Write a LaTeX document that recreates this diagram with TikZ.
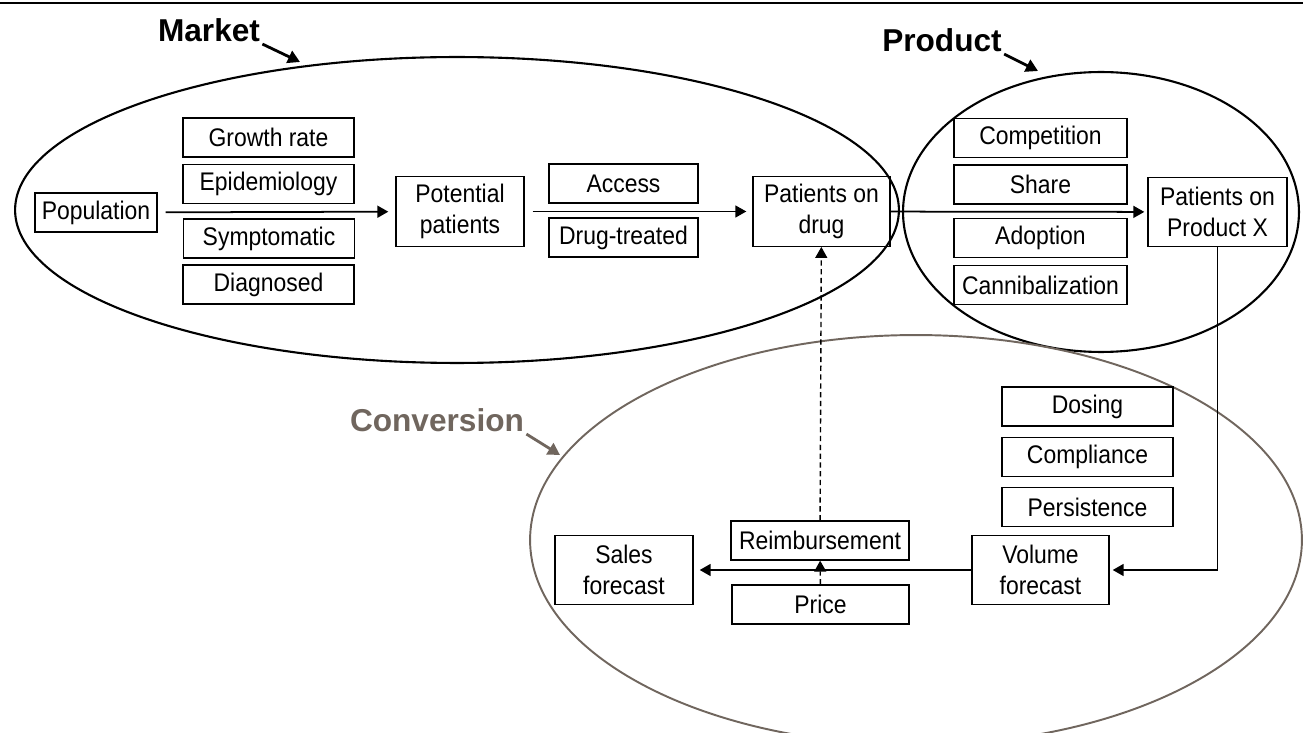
\documentclass[tikz,border=0pt]{standalone}
\usepackage{fontspec}
\setmainfont{Liberation Sans}[FakeStretch=0.9]
\newfontfamily\labelfont{Liberation Sans}
\usepackage{tikz}
\usetikzlibrary{arrows.meta}
\usetikzlibrary{calc}

\definecolor{convgray}{RGB}{112,102,94}

\begin{document}
\begin{tikzpicture}[x=0.02cm, y=-0.02cm, line width=0.8pt,
        box_style/.style={draw=black, rectangle, inner sep=1pt, minimum height=0.78cm, align=center, font=\fontsize{14.5}{17.5}\selectfont},
        tall_box_style/.style={box_style, minimum height=1.39cm},
        group_style/.style={inner sep=1pt, font=\labelfont\fontsize{18}{21}\selectfont\bfseries},
        edge_style/.style={draw=black, line width=1pt, -{Triangle[length=0.22cm,width=0.24cm]}},
        dash_style/.style={edge_style, dash pattern=on 3pt off 2pt, line width=0.8pt},
        pointer_style/.style={line width=1.6pt, -{Triangle[length=0.24cm,width=0.26cm]}}]

        \useasboundingbox (0,0) rectangle (1303,733);
        \clip (0,0) rectangle (1303,733);
        \draw [line width=1.6pt] (0,3) -- (1303,3);

        % the three groups
        \draw [line width=1.2pt] (457,210) ellipse [x radius=8.84cm, y radius=3.06cm];
        \draw [line width=1.2pt] (1101,212) ellipse [x radius=3.96cm, y radius=2.8cm];
        \draw [draw=convgray, line width=1.1pt] (916,540) ellipse [x radius=7.72cm, y radius=4.1cm];

        \node [group_style] (market) at (209,30) {Market};
        \node [group_style] (product) at (942,40) {Product};
        \node [group_style, text=convgray] (conversion) at (437,420) {Conversion};
        \coordinate (market_tip) at (300,62);
        \coordinate (product_tip) at (1038,71);
        \coordinate (conversion_tip) at (560,455);
        \draw [pointer_style] (market.south east) -- (market_tip);
        \draw [pointer_style] (product.south east) -- (product_tip);
        \draw [pointer_style, draw=convgray, fill=convgray] (conversion.south east) -- (conversion_tip);

        % market
        \node [box_style, minimum width=2.44cm] (population) at (96,212.5) {Population};
        \node [box_style, minimum width=3.42cm] (growth) at (268.5,137.5) {Growth rate};
        \node [box_style, minimum width=3.42cm] (epidemiology) at (268.5,184) {Epidemiology};
        \node [box_style, minimum width=3.42cm] (symptomatic) at (269,238.5) {Symptomatic};
        \node [box_style, minimum width=3.42cm] (diagnosed) at (268.5,284.5) {Diagnosed};
        \node [tall_box_style, minimum width=2.56cm] (potential) at (460,211.5) {Potential\\patients};
        \node [box_style, minimum width=2.98cm] (access) at (623.5,183.5) {Access};
        \node [box_style, minimum width=2.98cm] (drugtreated) at (623.5,237.5) {Drug-treated};
        \node [tall_box_style, minimum width=2.74cm] (ondrug) at (821.5,211.5) {Patients on\\drug};

        % product
        \node [box_style, minimum width=3.46cm] (competition) at (1040.5,138) {Competition};
        \node [box_style, minimum width=3.46cm] (share) at (1040.5,184.5) {Share};
        \node [box_style, minimum width=3.46cm] (adoption) at (1040.5,238) {Adoption};
        \node [box_style, minimum width=3.46cm] (cannibalization) at (1040.5,285) {Cannibalization};
        \node [tall_box_style, minimum width=2.78cm] (productx) at (1217.5,212) {Patients on\\Product X};

        % conversion
        \node [box_style, minimum width=3.42cm] (dosing) at (1087.5,406.5) {Dosing};
        \node [box_style, minimum width=3.42cm] (compliance) at (1087.5,457) {Compliance};
        \node [box_style, minimum width=3.42cm] (persistence) at (1087.5,507) {Persistence};
        \node [tall_box_style, minimum width=2.74cm] (volume) at (1040.5,570) {Volume\\forecast};
        \node [box_style, minimum width=3.56cm] (reimbursement) at (820,540.5) {Reimbursement};
        \node [box_style, minimum width=3.54cm] (price) at (820.5,604.5) {Price};
        \node [tall_box_style, minimum width=2.76cm] (sales) at (624,570) {Sales\\forecast};

        \draw [edge_style, shorten <=0.16cm, shorten >=0.14cm] (population) -- (potential);
        \draw [edge_style, shorten <=0.16cm, shorten >=0.12cm] (potential) -- (ondrug);
        \draw [edge_style, shorten >=0.06cm] (ondrug) -- (productx);
        \draw [edge_style, shorten >=0.06cm] (productx.south) |- (volume.east);
        \draw [edge_style, shorten >=0.12cm] (volume) -- (sales);
        \draw [dash_style] (reimbursement) -- (ondrug);
        \draw [dash_style] (price) -- (reimbursement);
\end{tikzpicture}
\end{document}
